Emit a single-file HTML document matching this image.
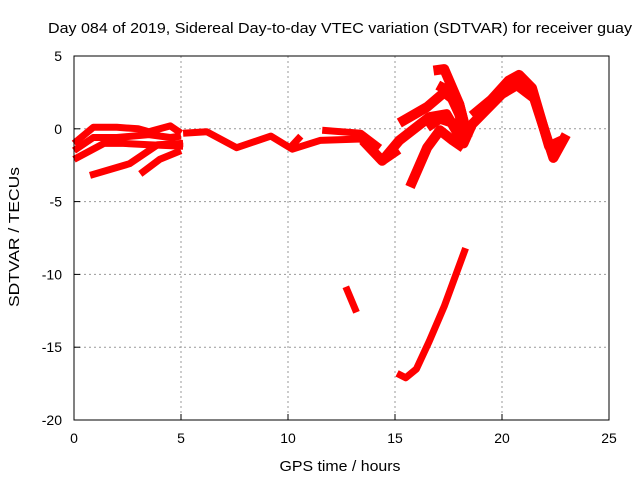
<!DOCTYPE html>
<html><head><meta charset="utf-8"><style>
body{margin:0;background:#fff}
svg{display:block;font-family:"Liberation Sans",sans-serif}
</style></head><body>
<svg id="chart" width="640" height="480">
<rect width="640" height="480" fill="#fff"/>
<text x="340" y="33" text-anchor="middle" font-size="15" textLength="584" lengthAdjust="spacingAndGlyphs">Day 084 of 2019, Sidereal Day-to-day VTEC variation (SDTVAR) for receiver guay</text>
<g id="grid"></g>
<g id="series" fill="none" stroke="#f00" stroke-width="7" stroke-linejoin="round" stroke-linecap="butt"></g>
<rect x="74" y="56" width="535" height="364" fill="none" stroke="#000"/>
<g id="ticks"></g>
<text x="340" y="471" text-anchor="middle" font-size="15" textLength="121" lengthAdjust="spacingAndGlyphs">GPS time / hours</text>
<text transform="translate(19,237) rotate(-90)" text-anchor="middle" font-size="15" textLength="140" lengthAdjust="spacingAndGlyphs">SDTVAR / TECUs</text>
</svg>
<script>
const xTicks=[0,5,10,15,20,25];
const yTicks=[5,0,-5,-10,-15,-20];
const s1x=[0,0.9,2,3,3.5,4.5,5],s1y=[-1.0,0.1,0.1,0.0,-0.2,0.2,-0.3];
const s2x=[0,0.9,2,3.5,4.5,5],s2y=[-1.5,-0.6,-0.6,-0.4,-0.6,-0.5];
const s3x=[0,1.4,2.3,3.5,5.1],s3y=[-2.1,-1.0,-1.0,-1.1,-1.2];
const s4x=[0.75,2.6,3.9,5.1],s4y=[-3.2,-2.4,-1.1,-1.0];
const s5x=[3.1,4.0,5],s5y=[-3.1,-2.1,-1.5];
const s6x=[5.1,6.2,7.6,9.2,10.2,11.5,13.4,14.5,15.2],s6y=[-0.3,-0.2,-1.3,-0.5,-1.4,-0.8,-0.7,-2.2,-1.5];
const s7x=[11.6,13.4,14.3],s7y=[-0.1,-0.3,-1.3];
const s8x=[10.1,10.6],s8y=[-1.3,-0.5];
const s9x=[13.5,14.4,15.2,16.6,17.4,18.2,18.6,20,20.7,21.5,22.4,23],s9y=[-0.8,-2.2,-0.8,0.8,1.0,-1.0,0.3,2.4,3.0,2.1,-2.0,-0.4];
const s10x=[15.2,16.5,17.3,18.0,18.4],s10y=[0.4,1.5,2.5,1.7,-0.6];
const s11x=[16.8,17.3,18.0,18.4],s11y=[4.0,4.1,1.7,-0.6];
const s12x=[15.7,16.5,17.1,17.7,18.2],s12y=[-4.0,-1.3,-0.1,-0.8,-1.3];
const s13x=[16.5,17.1,17.9],s13y=[0.1,0.7,0.3];
const s14x=[12.7,13.2],s14y=[-10.85,-12.6];
const s15x=[15.1,15.5,16.0,16.6,17.3,18.3],s15y=[-16.8,-17.1,-16.5,-14.6,-12.2,-8.2];
const s16x=[17.0,17.5,18.0,18.3],s16y=[3.0,2.6,1.0,-0.5];
const s17x=[18.6,19.5,20.3,20.8,21.4,22.2,22.8],s17y=[0.9,2.0,3.3,3.7,2.8,-1.2,-0.8];
const allSeries=[[s1x,s1y],[s2x,s2y],[s3x,s3y],[s4x,s4y],[s5x,s5y],[s6x,s6y],[s7x,s7y],[s8x,s8y],[s9x,s9y],[s10x,s10y],[s11x,s11y],[s12x,s12y],[s13x,s13y],[s14x,s14y],[s15x,s15y],[s16x,s16y],[s17x,s17y]];
const NS="http://www.w3.org/2000/svg";
const X=v=>74+(v-0)/25*535;
const Y=v=>56+(5-v)/25*364;
const grid=document.getElementById('grid'),ticks=document.getElementById('ticks'),ser=document.getElementById('series');
function mk(t,a,p){const e=document.createElementNS(NS,t);for(const k in a)e.setAttribute(k,a[k]);p.appendChild(e);return e;}
xTicks.forEach(v=>{
 if(v>0&&v<25){const g=mk('line',{x1:X(v),x2:X(v),y1:56,y2:420,stroke:'#999','stroke-dasharray':'2,3'},grid);
 
 }
 const t=mk('line',{x1:X(v),x2:X(v),y1:420,y2:414,stroke:'#000'},ticks);
 
 
 const l=mk('text',{x:X(v),y:443,'text-anchor':'middle','font-size':'14'},ticks);l.textContent=v;
 
 
});
yTicks.forEach(v=>{
 if(v<5&&v>-20){const g=mk('line',{x1:74,x2:609,y1:Y(v),y2:Y(v),stroke:'#999','stroke-dasharray':'2,3'},grid);
 
 }
 const t=mk('line',{x1:74,x2:80,y1:Y(v),y2:Y(v),stroke:'#000'},ticks);
 
 
 const l=mk('text',{x:62,y:Y(v)+5,'text-anchor':'end','font-size':'14'},ticks);l.textContent=v;
 
 
});
allSeries.forEach((s,i)=>{
 const pts=s[0].map((x,j)=>X(x).toFixed(1)+','+Y(s[1][j]).toFixed(1)).join(' ');
 const p=mk('polyline',{points:pts},ser);
 if(i>=8&&i!==13&&i!==14)p.setAttribute('stroke-width','10');
 
 
});
</script>
</body></html>
